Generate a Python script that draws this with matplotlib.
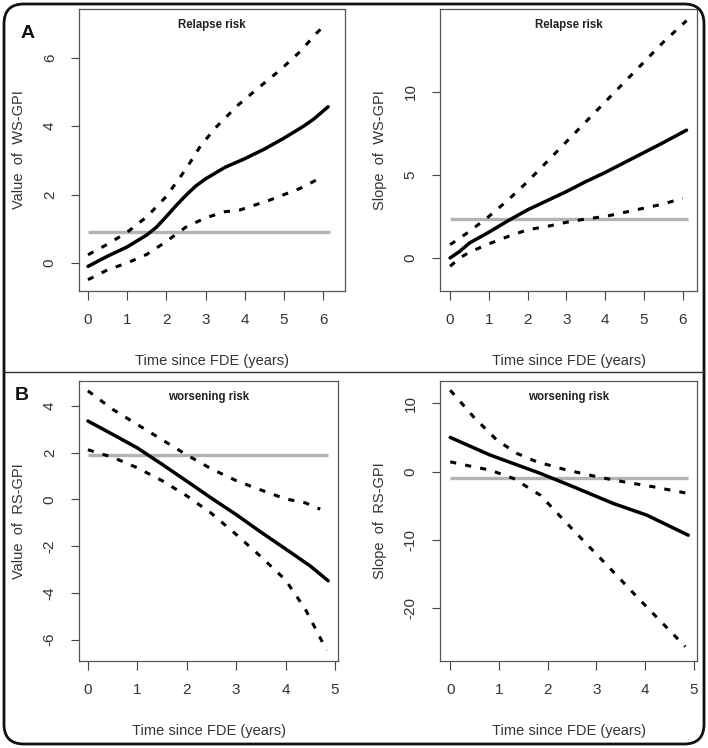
import numpy as np
import matplotlib
matplotlib.use('Agg')
import matplotlib.pyplot as plt
from matplotlib.patches import FancyBboxPatch
from matplotlib.lines import Line2D

plt.rcParams['font.family'] = ['Liberation Sans', 'DejaVu Sans']

# ---- data ----
# A left: value of WS-GPI, relapse risk
a1_x = [0, 0.5, 1.0, 1.5, 1.75, 2.0, 2.25, 2.5, 2.75, 3.0, 3.5, 4.0, 4.5, 5.0, 5.5, 5.75, 6.13]
a1_fit = [-0.1, 0.2, 0.47, 0.82, 1.05, 1.36, 1.68, 1.98, 2.25, 2.46, 2.8, 3.05, 3.33, 3.65, 4.0, 4.2, 4.57]
a1_up_x = [0, 0.5, 1.0, 1.5, 2.0, 2.5, 2.86, 3.24, 3.83, 4.39, 4.9, 5.41, 5.83, 6.05]
a1_up = [0.24, 0.55, 0.9, 1.35, 1.95, 2.75, 3.4, 3.94, 4.62, 5.16, 5.64, 6.18, 6.72, 6.96]
a1_lo_x = [0, 0.5, 1.0, 1.5, 2.0, 2.5, 3.0, 3.5, 3.88, 4.64, 5.41, 5.92]
a1_lo = [-0.49, -0.2, 0.0, 0.25, 0.63, 1.05, 1.32, 1.5, 1.55, 1.84, 2.18, 2.48]
a1_ref, a1_xmax = 0.91, 6.17

# A right: slope of WS-GPI, relapse risk
a2_x = [0, 0.25, 0.5, 1.0, 1.5, 2.0, 2.5, 3.0, 3.5, 4.0, 4.5, 5.0, 5.5, 6.1]
a2_fit = [0, 0.4, 0.9, 1.55, 2.25, 2.9, 3.45, 4.0, 4.6, 5.15, 5.75, 6.35, 6.95, 7.7]
a2_up_x = [0, 0.5, 1.0, 1.5, 2.0, 2.5, 3.0, 3.5, 4.0, 4.5, 5.0, 5.5, 6.1]
a2_up = [0.8, 1.6, 2.5, 3.5, 4.6, 5.8, 7.0, 8.2, 9.4, 10.6, 11.8, 13.0, 14.3]
a2_lo_x = [0, 0.25, 0.5, 1.0, 1.5, 2.0, 2.5, 3.0, 3.5, 4.0, 4.5, 5.0, 5.5, 6.0]
a2_lo = [-0.5, 0.0, 0.35, 0.85, 1.3, 1.7, 1.9, 2.15, 2.35, 2.5, 2.75, 3.0, 3.25, 3.6]
a2_ref, a2_xmax = 2.36, 6.15

# B left: value of RS-GPI, worsening risk
b1_x = [0, 0.5, 1.0, 1.5, 2.0, 2.5, 3.0, 3.5, 4.0, 4.5, 4.86]
b1_fit = [3.35, 2.78, 2.2, 1.5, 0.78, 0.05, -0.65, -1.4, -2.12, -2.85, -3.48]
b1_up_x = [0, 0.5, 1.0, 1.5, 2.0, 2.5, 3.0, 3.5, 4.0, 4.4, 4.7]
b1_up = [4.64, 3.85, 3.2, 2.55, 1.9, 1.3, 0.8, 0.4, 0.02, -0.15, -0.42]
b1_lo_x = [0, 0.5, 1.0, 1.5, 2.0, 2.5, 3.0, 3.5, 4.0, 4.4, 4.83]
b1_lo = [2.12, 1.8, 1.35, 0.8, 0.15, -0.6, -1.5, -2.45, -3.45, -4.7, -6.45]
b1_ref, b1_xmax = 1.89, 4.86

# B right: slope of RS-GPI, worsening risk
b2_x = [0, 0.82, 1.85, 2.53, 3.35, 4.04, 4.89]
b2_fit = [5.0, 2.42, -0.26, -2.22, -4.66, -6.37, -9.3]
b2_up_x = [0, 0.48, 0.96, 1.37, 1.78, 2.4, 3.08, 3.56, 4.17, 4.89]
b2_up = [11.9, 8.0, 4.6, 2.66, 1.43, 0.22, -0.85, -1.49, -2.22, -3.2]
b2_lo_x = [0, 0.41, 0.82, 1.3, 1.85, 2.53, 3.29, 3.9, 4.83]
b2_lo = [1.43, 0.8, 0.22, -1.0, -3.44, -8.57, -14.2, -18.8, -25.6]
b2_ref, b2_xmax = -0.9, 4.89

W, H = 708, 748
fig = plt.figure(figsize=(W / 100, H / 100), dpi=100)

txt = '#333333'
dots = (0, (2, 3))


def panel(box, x, fit, ux, up, lx, lo, ref, xmax, xlim, ylim, xticks, yticks,
          ylabel, title):
    l, t, r, b = box
    ax = fig.add_axes([l / W, 1 - b / H, (r - l) / W, (b - t) / H])
    ax.plot([0, xmax], [ref, ref], color='#b3b3b3', lw=2.4, solid_capstyle='butt')
    ax.plot(x, fit, color='black', lw=2.5, solid_capstyle='round',
            solid_joinstyle='round')
    ax.plot(ux, up, color='black', lw=2.2, linestyle=dots, dash_capstyle='butt')
    ax.plot(lx, lo, color='black', lw=2.2, linestyle=dots, dash_capstyle='butt')
    ax.set_xlim(*xlim)
    ax.set_ylim(*ylim)
    ax.set_xticks(xticks)
    ax.set_yticks(yticks)
    ax.set_xticklabels([str(v) for v in xticks])
    ax.set_yticklabels([str(v) for v in yticks], rotation=90, va='center')
    ax.tick_params(axis='x', length=6.5, width=0.8, color='#444444',
                   labelsize=11, labelcolor=txt, pad=9.5)
    ax.tick_params(axis='y', length=6, width=0.8, color='#444444',
                   labelsize=11, labelcolor=txt, pad=10)
    for s in ax.spines.values():
        s.set_color('#555555')
        s.set_linewidth(0.9)
    ax.set_xlabel('Time since FDE (years)', fontsize=10.5, color=txt, labelpad=19)
    ax.set_ylabel(ylabel, fontsize=10.5, color=txt, labelpad=12)
    ax.text(0.5, 1 - 16 / (b - t), title, transform=ax.transAxes, ha='center',
            va='center', fontsize=8.3, fontweight='bold', color='#222222')
    return ax


panel((79, 9, 345, 291), a1_x, a1_fit, a1_up_x, a1_up, a1_lo_x, a1_lo,
      a1_ref, a1_xmax, (-0.23, 6.56), (-0.82, 7.43), [0, 1, 2, 3, 4, 5, 6],
      [0, 2, 4, 6], 'Value  of  WS-GPI', 'Relapse risk')
panel((440, 9, 697, 291), a2_x, a2_fit, a2_up_x, a2_up, a2_lo_x, a2_lo,
      a2_ref, a2_xmax, (-0.26, 6.37), (-1.99, 15.0), [0, 1, 2, 3, 4, 5, 6],
      [0, 5, 10], 'Slope  of  WS-GPI', 'Relapse risk')
panel((79, 381, 338, 661), b1_x, b1_fit, b1_up_x, b1_up, b1_lo_x, b1_lo,
      b1_ref, b1_xmax, (-0.18, 5.06), (-6.91, 5.06), [0, 1, 2, 3, 4, 5],
      [-6, -4, -2, 0, 2, 4], 'Value  of  RS-GPI', 'worsening risk')
panel((440, 381, 697, 661), b2_x, b2_fit, b2_up_x, b2_up, b2_lo_x, b2_lo,
      b2_ref, b2_xmax, (-0.21, 5.07), (-27.7, 13.25), [0, 1, 2, 3, 4, 5],
      [-20, -10, 0, 10], 'Slope  of  RS-GPI', 'worsening risk')

# rounded outer frame and divider
frame = FancyBboxPatch((4 / W, 4 / H), (W - 8) / W, (H - 8) / H,
                       boxstyle='round,pad=0,rounding_size=0.028',
                       transform=fig.transFigure, fill=False,
                       edgecolor='#111111', linewidth=2.0, mutation_aspect=W / H)
fig.patches.append(frame)
fig.lines.append(Line2D([4 / W, (W - 4) / W], [1 - 372 / H, 1 - 372 / H],
                        transform=fig.transFigure, color='#333333', lw=1.0))

fig.text(28 / W, 1 - 33 / H, 'A', fontsize=14, fontweight='bold', ha='center',
         va='center', color='#111111')
fig.text(22 / W, 1 - 396 / H, 'B', fontsize=14, fontweight='bold', ha='center',
         va='center', color='#111111')

fig.savefig('out.png', dpi=100)
